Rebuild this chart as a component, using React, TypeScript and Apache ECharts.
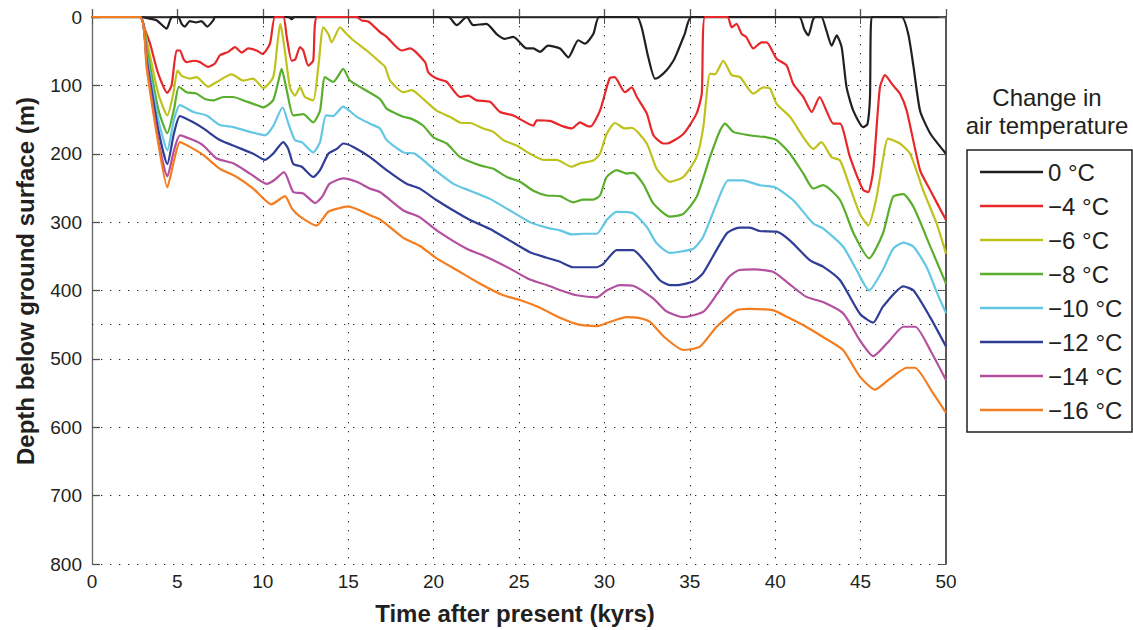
import React, { useEffect, useRef } from "react";
import * as echarts from "echarts";

// ---- Data (time after present in kyrs, depth below ground surface in m) ----
const seriesNames = ["0 °C", "−4 °C", "−6 °C", "−8 °C", "−10 °C", "−12 °C", "−14 °C", "−16 °C"];
const seriesColors = ["#231f20", "#e8272a", "#bfc21c", "#5aae2e", "#63c7e3", "#2f3d95", "#b3509f", "#f47d20"];

const d0 = [[0,0],[2.8,0],[3.3,2],[3.8,5],[4.37,17],[4.57,5],[4.67,0],[5.05,0],[5.25,10],[5.44,14],[5.73,6],[6.1,8],[6.4,6],[6.75,14],[7.1,5],[7.2,0],[11.5,0],[11.69,3],[11.85,0],[20.86,0],[21.35,12],[21.94,0],[22.32,12],[23.1,10],[23.69,25],[24.18,32],[24.67,29],[25.45,46],[25.84,46],[26.23,51],[26.7,42],[27.4,46],[27.89,59],[28.47,34],[28.86,39],[29.35,25],[29.7,0],[31.9,0],[32.18,15],[32.57,59],[32.96,90],[33.2,88],[33.64,78],[34.04,64],[34.23,54],[34.7,25],[35.1,0],[41.4,0],[41.7,18],[41.94,27],[42.2,5],[42.35,0],[42.7,0],[43.0,20],[43.3,42],[43.6,27],[43.89,44],[44.18,103],[44.57,137],[45.15,161],[45.4,157],[45.55,117],[45.65,0],[47.4,0],[47.79,25],[48.1,73],[48.48,137],[49.07,170],[50,200]];

const d4 = [[0,0],[2.8,0],[3.12,20],[3.4,39],[3.88,83],[4.41,111],[4.66,100],[4.95,49],[5.15,49],[5.35,61],[5.54,66],[5.93,64],[6.32,66],[6.8,73],[7.2,68],[7.49,56],[7.98,51],[8.37,44],[8.76,52],[9.15,46],[9.64,49],[9.99,54],[10.42,39],[10.71,0],[11.2,0],[11.4,29],[11.69,64],[11.9,62],[12.18,44],[12.37,49],[12.66,71],[12.95,64],[13.19,0],[15.5,0],[15.79,5],[16.2,7],[16.86,22],[17.25,29],[18.13,49],[18.62,46],[19.5,66],[19.69,81],[20.18,90],[20.77,95],[21.55,117],[22.03,115],[22.52,122],[23.3,124],[23.89,139],[24.67,144],[25.84,159],[26.04,151],[26.81,152],[27.59,160],[28.1,163],[28.57,154],[29.06,160],[29.2,160],[29.74,137],[30.3,90],[30.6,88],[31.2,110],[31.6,103],[31.9,117],[32.48,141],[32.87,173],[33.45,185],[33.64,185],[34.62,171],[35.4,141],[35.7,112],[35.89,0],[37.2,0],[37.45,15],[37.74,10],[38.04,25],[38.3,29],[38.72,46],[39.2,37],[39.5,37],[40.08,61],[40.67,71],[41.06,98],[41.65,117],[42.14,139],[42.6,117],[43.0,137],[43.4,156],[43.8,156],[44.38,205],[45.15,253],[45.45,256],[45.74,224],[46.13,103],[46.43,85],[46.9,100],[47.3,112],[47.7,137],[48.48,224],[49.07,253],[50,297]];

const d6 = [[0,0],[2.8,0],[3.2,34],[3.88,112],[4.41,144],[4.76,112],[5.01,78],[5.25,86],[5.73,90],[6.12,88],[6.8,102],[7.3,95],[8.18,84],[8.86,93],[9.44,90],[10.03,104],[10.61,88],[10.85,40],[11.02,10],[11.15,25],[11.29,49],[11.59,103],[11.88,115],[12.18,103],[12.47,117],[12.95,122],[13.25,73],[13.54,15],[13.84,25],[14.03,37],[14.52,15],[14.8,22],[15.3,34],[16.08,49],[16.86,66],[17.16,73],[17.45,93],[18.23,110],[18.72,107],[19.4,120],[20.18,137],[20.96,146],[21.64,155],[22.13,155],[22.91,163],[23.5,168],[24.08,180],[24.86,188],[25.64,200],[26.42,209],[27.2,209],[28.08,219],[28.57,214],[29.35,210],[29.74,200],[30.13,171],[30.62,155],[31.2,163],[31.6,162],[32.48,185],[33.06,222],[33.84,241],[34.62,234],[35.4,205],[35.79,161],[36.18,83],[36.47,84],[36.96,64],[37.45,85],[37.94,88],[38.72,112],[39.3,103],[39.7,105],[40.08,127],[40.87,146],[41.65,176],[42.23,193],[42.7,183],[43.3,205],[43.8,210],[44.38,249],[44.96,288],[45.45,305],[45.9,268],[46.3,210],[46.6,178],[47.3,185],[47.9,200],[48.67,254],[49.45,302],[50,346]];

const d8 = [[0,0],[2.8,0],[3.2,45],[3.88,135],[4.41,170],[4.8,135],[5.09,102],[5.54,110],[6.1,112],[6.62,120],[7.1,122],[7.69,117],[8.27,117],[8.86,122],[9.44,127],[10.03,132],[10.6,122],[10.9,95],[11.1,76],[11.4,107],[11.79,144],[12.37,142],[12.95,154],[13.35,137],[13.64,88],[14.13,95],[14.71,76],[15.1,93],[15.88,105],[16.86,120],[17.25,134],[17.7,140],[18.23,146],[18.72,149],[19.4,159],[19.99,176],[20.77,185],[21.55,205],[22.72,217],[23.5,222],[24.28,234],[25.06,241],[25.84,254],[26.62,261],[27.4,262],[28.17,271],[28.76,267],[29.35,267],[29.74,261],[30.13,234],[30.72,224],[31.3,229],[31.68,228],[32.27,244],[32.87,273],[33.84,292],[34.62,288],[35.4,263],[36.18,205],[36.77,166],[37.06,156],[37.55,168],[38.5,173],[39.5,176],[40.08,180],[40.87,200],[41.65,229],[42.23,251],[42.8,246],[43.8,268],[44.6,317],[45.5,353],[46.3,317],[46.9,263],[47.5,259],[48.1,278],[49.07,335],[50,390]];

const d10 = [[0,0],[2.8,0],[3.2,55],[3.88,150],[4.41,195],[4.8,150],[5.15,129],[5.93,139],[6.71,144],[7.49,158],[8.27,161],[9.25,168],[10.13,173],[10.6,160],[11.16,132],[11.5,156],[11.88,180],[12.28,183],[12.95,198],[13.35,183],[13.7,144],[14.1,145],[14.71,131],[15.5,146],[16.28,156],[16.86,163],[17.25,180],[18.23,198],[18.91,200],[19.99,222],[21.16,244],[22.13,254],[23.3,266],[24.47,283],[25.64,300],[26.62,308],[27.4,312],[28.08,318],[28.76,317],[29.55,317],[30.13,297],[30.72,285],[31.68,287],[32.48,307],[33.06,331],[33.84,345],[34.23,344],[35.2,339],[35.77,322],[36.57,273],[37.25,239],[38.1,239],[39.1,246],[39.99,249],[41.06,268],[42.23,302],[42.8,309],[43.98,336],[44.76,370],[45.5,400],[46.3,370],[46.9,339],[47.5,330],[48.1,336],[48.87,366],[49.5,405],[50,433]];

const d12 = [[0,0],[2.8,0],[3.2,62],[3.88,165],[4.41,215],[4.8,170],[5.15,145],[5.93,154],[6.52,163],[7.49,180],[8.47,190],[9.44,200],[10.13,209],[10.6,200],[11.2,183],[11.49,193],[11.79,215],[12.28,219],[12.95,234],[13.35,224],[13.84,200],[14.33,193],[14.71,185],[15.3,190],[16.28,205],[17.25,224],[18.42,244],[19.2,251],[20.18,268],[21.16,283],[22.13,297],[23.3,310],[24.47,327],[25.64,344],[26.62,352],[27.4,358],[28.17,366],[29.55,366],[29.94,361],[30.72,341],[31.68,341],[32.48,361],[33.25,385],[33.84,392],[34.23,392],[35.2,387],[35.77,375],[37.15,317],[37.9,308],[38.5,308],[39.1,313],[40.08,314],[40.87,327],[42.04,356],[42.8,365],[43.8,385],[44.96,434],[45.74,447],[46.3,424],[47.5,394],[48.1,400],[49.07,439],[50,482]];

const d14 = [[0,0],[2.8,0],[3.2,68],[3.88,180],[4.41,233],[4.8,195],[5.15,173],[5.93,180],[6.52,188],[7.3,207],[8.27,214],[9.25,229],[10.23,244],[10.7,238],[11.24,227],[11.79,256],[12.37,258],[13.06,272],[13.5,262],[13.9,244],[14.71,236],[15.5,241],[16.28,251],[16.86,256],[18.23,283],[19.2,293],[20.18,312],[21.94,339],[23.1,351],[24.47,368],[25.64,384],[26.62,392],[27.59,401],[28.37,407],[29.55,410],[30.13,400],[30.91,392],[31.68,393],[32.87,412],[33.6,430],[34.6,439],[35.8,431],[36.6,405],[37.3,380],[37.9,370],[38.8,369],[39.9,373],[40.8,390],[41.8,409],[42.8,417],[44.0,434],[44.96,473],[45.74,496],[46.7,473],[47.5,453],[48.2,453],[49.07,487],[50,531]];

const d16 = [[0,0],[2.8,0],[3.2,75],[3.79,171],[4.41,249],[4.8,210],[5.15,183],[5.73,190],[6.52,202],[7.49,222],[8.47,234],[9.44,251],[10.5,274],[11.3,262],[11.7,280],[12.18,292],[13.15,305],[13.82,285],[14.4,280],[15.0,277],[16.28,290],[16.86,296],[18.23,323],[19.2,335],[20.18,353],[21.35,370],[22.72,390],[24.08,407],[25.06,414],[26.2,425],[27.4,440],[28.5,450],[29.6,452],[30.3,446],[31.3,439],[32.0,440],[32.67,446],[33.5,468],[34.62,487],[35.6,482],[36.57,453],[37.74,429],[38.5,427],[39.9,429],[40.8,440],[41.8,453],[42.8,468],[43.97,487],[44.96,526],[45.84,545],[46.72,529],[47.7,513],[48.18,513],[49.26,551],[50,579]];

const seriesData = [d0, d4, d6, d8, d10, d12, d14, d16];

const xGridValues = [10, 15, 20, 25, 30, 35, 40, 45];
const extraYGridValues = [450];

const xTitle = "Time after present (kyrs)";
const yTitle = "Depth below ground surface (m)";
const legendTitle = ["Change in", "air temperature"];

export default function App() {
  const ref = useRef<HTMLDivElement>(null);
  useEffect(() => {
    if (!ref.current) return;
    const chart = echarts.init(ref.current, null, { renderer: "svg" });
    const font = "Liberation Sans, Arial, sans-serif";
    const dotted = { type: [1.3, 7.7] as any, color: "#222", width: 1 };

    const lineSeries = seriesNames.map((name, i) => ({
      name,
      type: "line",
      data: seriesData[i],
      showSymbol: false,
      symbol: "none",
      smooth: 0.2,
      lineStyle: { color: seriesColors[i], width: 2.2 },
      itemStyle: { color: seriesColors[i] },
      z: 3 + i,
      silent: true,
    }));

    const gridSeries = {
      name: "grid",
      type: "line",
      data: [],
      silent: true,
      z: 1,
      markLine: {
        silent: true,
        symbol: "none",
        label: { show: false },
        lineStyle: dotted,
        data: [
          ...xGridValues.map((v) => ({ xAxis: v })),
          ...extraYGridValues.map((v) => ({ yAxis: v })),
        ],
      },
    };

    const tickLabel = { fontFamily: font, fontSize: 19, color: "#231f20" };

    chart.setOption({
      animation: false,
      backgroundColor: "#ffffff",
      grid: { left: 92, right: 187, top: 17, bottom: 66, containLabel: false, outerBoundsMode: "none" },
      xAxis: [
        {
          type: "value", min: 0, max: 50, interval: 5, position: "bottom",
          axisLine: { show: true, lineStyle: { color: "#333", width: 1.3 } },
          axisTick: { show: true, inside: true, length: 8, lineStyle: { color: "#555", width: 1.3 } },
          axisLabel: { ...tickLabel, margin: 8 },
          splitLine: { show: false },
        },
        {
          type: "value", min: 0, max: 50, interval: 5, position: "top",
          axisLine: { show: true, onZero: false, lineStyle: { color: "#231f20", width: 1.5 } },
          axisTick: { show: true, inside: true, length: 7, lineStyle: { color: "#555" } },
          axisLabel: { show: false },
          splitLine: { show: false },
        },
      ],
      yAxis: [
        {
          type: "value", min: 0, max: 800, interval: 100, inverse: true, position: "left",
          axisLine: { show: true, onZero: false, lineStyle: { color: "#666", width: 1.3 } },
          axisTick: { show: true, inside: true, length: 8, lineStyle: { color: "#555", width: 1.3 } },
          axisLabel: { ...tickLabel, margin: 10 },
          splitLine: { show: true, lineStyle: dotted },
        },
        {
          type: "value", min: 0, max: 800, interval: 100, inverse: true, position: "right",
          axisLine: { show: true, onZero: false, lineStyle: { color: "#231f20", width: 1.5 } },
          axisTick: { show: true, inside: true, length: 7, lineStyle: { color: "#555" } },
          axisLabel: { show: false },
          splitLine: { show: false },
        },
      ],
      legend: {
        data: seriesNames,
        orient: "vertical",
        left: 980,
        top: 155,
        padding: 0,
        itemGap: 0,
        itemWidth: 63,
        itemHeight: 2.4,
        icon: "rect",
        selectedMode: false,
        textStyle: { fontFamily: font, fontSize: 24, color: "#231f20", lineHeight: 34 },
      },
      graphic: [
        {
          type: "rect",
          shape: { x: 967, y: 150, width: 165, height: 282 },
          style: { fill: "none", stroke: "#231f20", lineWidth: 1.5 },
        },
        {
          type: "text", x: 1047, y: 97,
          style: { text: legendTitle[0], fontFamily: font, fontSize: 24, fill: "#231f20", textAlign: "center", textVerticalAlign: "middle" },
        },
        {
          type: "text", x: 1047, y: 125,
          style: { text: legendTitle[1], fontFamily: font, fontSize: 24, fill: "#231f20", textAlign: "center", textVerticalAlign: "middle" },
        },
        {
          type: "text", x: 515, y: 613,
          style: { text: xTitle, fontFamily: font, fontWeight: "bold", fontSize: 24, fill: "#231f20", textAlign: "center", textVerticalAlign: "middle" },
        },
        {
          type: "text", x: 25, y: 281, rotation: Math.PI / 2,
          style: { text: yTitle, fontFamily: font, fontWeight: "bold", fontSize: 24, fill: "#231f20", textAlign: "center", textVerticalAlign: "middle" },
        },
      ],
      series: [gridSeries, ...lineSeries],
    });
    return () => chart.dispose();
  }, []);
  return <div ref={ref} style={{ position: "fixed", left: 0, top: 0, width: 1133, height: 630 }} />;
}
